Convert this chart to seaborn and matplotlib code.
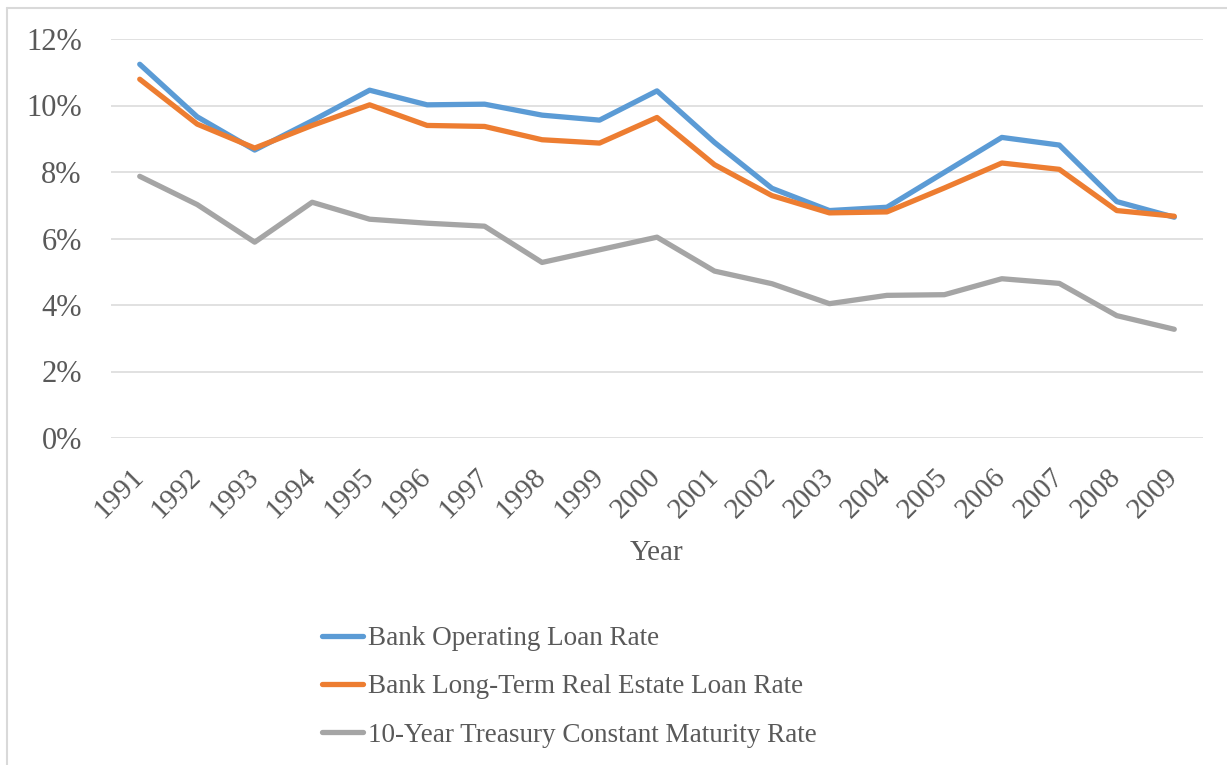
import numpy as np
import pandas as pd
import matplotlib
matplotlib.use('Agg')
import matplotlib.pyplot as plt
from matplotlib.lines import Line2D
from matplotlib.ticker import FuncFormatter
import seaborn as sns

# Data (percent)
years = [str(y) for y in range(1991, 2010)]
operating = [11.24, 9.66, 8.66, 9.54, 10.46, 10.02, 10.04, 9.71, 9.56, 10.44,
             8.89, 7.51, 6.84, 6.94, 7.99, 9.04, 8.81, 7.11, 6.64]
real_estate = [10.79, 9.44, 8.72, 9.40, 10.02, 9.40, 9.37, 8.97, 8.87, 9.64,
               8.22, 7.29, 6.77, 6.80, 7.52, 8.27, 8.08, 6.84, 6.67]
treasury = [7.87, 7.02, 5.89, 7.09, 6.58, 6.46, 6.37, 5.28, 5.66, 6.04,
            5.02, 4.64, 4.04, 4.29, 4.31, 4.79, 4.65, 3.68, 3.27]
series_names = ['Bank Operating Loan Rate',
                'Bank Long-Term Real Estate Loan Rate',
                '10-Year Treasury Constant Maturity Rate']
colors = ['#5B9BD5', '#ED7D31', '#A5A5A5']

df = pd.DataFrame({'Year': years,
                   series_names[0]: operating,
                   series_names[1]: real_estate,
                   series_names[2]: treasury})
long_df = df.melt(id_vars='Year', var_name='Series', value_name='Rate')

sns.set_style('white')
plt.rcParams['font.family'] = ['Liberation Serif', 'DejaVu Serif']
text_color = '#595959'

fig = plt.figure(figsize=(12.27, 7.65), dpi=100)
ax = fig.add_axes([111 / 1227, 1 - 438 / 765, (1203 - 111) / 1227, (438 - 39) / 765])

sns.lineplot(data=long_df, x='Year', y='Rate', hue='Series', hue_order=series_names,
             palette=colors, linewidth=3.8, sort=False, ax=ax, legend=False)
for line in ax.lines:
    line.set_solid_capstyle('round')
    line.set_solid_joinstyle('round')

ax.set_xlim(-0.5, len(years) - 0.5)
ax.set_ylim(0, 12)
ax.set_yticks(np.arange(0, 13, 2))
ax.yaxis.set_major_formatter(FuncFormatter(lambda v, p: f'{v:.0f}%'))
ax.grid(axis='y', color='#D9D9D9', linewidth=1.1)
ax.grid(axis='x', visible=False)
ax.set_axisbelow(True)
for s in ax.spines.values():
    s.set_visible(False)
ax.tick_params(axis='y', length=0, labelsize=22, labelcolor=text_color, pad=21)
ax.set_xticks(range(len(years)))
ax.set_xticklabels(years, rotation=45, ha='right', va='center', rotation_mode='anchor')
ax.tick_params(axis='x', length=0, labelsize=21, labelcolor=text_color, pad=25)
ax.set_ylabel('')
ax.set_xlabel('Year', fontsize=21, color=text_color, labelpad=12)

handles = [Line2D([0], [0], color=c, linewidth=3.8, solid_capstyle='round') for c in colors]
fig.legend(handles, series_names, loc='upper left', bbox_to_anchor=(322 / 1227, 1 - 626 / 765),
           frameon=False, fontsize=19.5, labelcolor=text_color, handlelength=1.5,
           handletextpad=0.18, labelspacing=0.86, borderpad=0, borderaxespad=0)

# chart-area border (top and left edges visible)
fig.add_artist(Line2D([7 / 1227, 7 / 1227], [0, 1 - 8 / 765], transform=fig.transFigure,
                      color='#D9D9D9', linewidth=1.5))
fig.add_artist(Line2D([7 / 1227, 1], [1 - 8 / 765, 1 - 8 / 765], transform=fig.transFigure,
                      color='#D9D9D9', linewidth=1.5))

fig.savefig('out.png', dpi=100, facecolor='white')
